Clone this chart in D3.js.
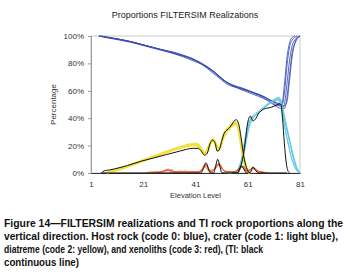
<!DOCTYPE html>
<html lang="en">

<head>
    <meta charset="utf-8">
    <script src='https://d3js.org/d3.v7.min.js'></script>
    <style>
        body { margin: 0; background: #fff; }
    </style>
</head>

<body>
    <div class="chart"></div>

    <script>

        // axis ticks
        const xTicks = [1, 21, 41, 61, 81];
        const yTicks = [0, 20, 40, 60, 80, 100];

        // host rock (code 0) realizations, [level, %]
        const host1 = [[4,100],[7,99],[11,98],[15,96.5],[20,94],[25,91.5],[30,89],[35,86],[40,83],[43,80],[47,75.5],[50,71],[53,66],[56,63],[60,60.5],[64,58],[68,55],[71,51.5],[73,49],[74,49],[75,58],[76,78],[77,92],[78,97],[79,99],[80,100]];
        const host2 = [[5,100],[8,98.5],[12,97],[16,95.5],[21,93],[26,90.5],[31,88],[36,85],[40,82],[44,78.5],[47,74],[50,69.5],[53,65],[57,62],[61,59],[65,56],[69,52.5],[72,48.5],[74,47],[75,50],[76,65],[77,82],[78,93],[79,97],[80,99],[81,100]];
        const host3 = [[4,100],[8,99],[12,97.5],[17,95.5],[22,93],[27,90.5],[32,88.5],[37,85.5],[41,82],[44,79],[48,74],[51,69],[54,65],[58,62],[62,59.5],[66,56.5],[70,53],[73,50],[74,48],[75,47],[76,55],[77,72],[78,88],[79,95],[80,99],[81,100]];
        const host4 = [[5,100],[9,98.5],[13,97],[18,95],[23,92.5],[28,90],[33,87.5],[38,84.5],[42,81],[45,77.5],[48,73.5],[51,68.5],[55,64],[59,61.5],[63,58.5],[67,55],[70,51.5],[72,49.5],[74,50],[75,64],[76,84],[77,95],[78,99],[79,100]];
        const host5 = [[4,100],[7,98.8],[11,97.8],[16,96],[21,93.5],[26,91],[31,88.5],[36,86],[40,83.5],[43,80.5],[46,77],[49,72.5],[52,67.5],[55,64.5],[59,62],[63,59],[67,56],[70,52.5],[73,50.5],[75,49],[76,52],[77,68],[78,85],[79,94],[80,98],[81,100]];

        // crater (code 1) realizations
        const crater1 = [[53,0],[56,0],[58,6],[59,15],[60,26],[61,35],[62,40],[63,42],[65,45],[67,48],[69,51],[71,53.5],[72.5,55],[73.5,52],[74.5,44],[75.5,35],[76.5,27],[77.5,18],[78.5,10],[79.5,4],[80.5,1],[81,0]];
        const crater2 = [[54,0],[57,0],[58.5,5],[59.5,14],[60.5,25],[61.5,34],[63,40],[65,43.5],[67,47],[69,50],[71,52.5],[72.5,54],[73.5,50],[74.5,40],[75.5,30],[76.5,21],[77.5,13],[78.5,7],[79.5,3],[81,0]];
        const crater3 = [[53,0],[56,0],[57.5,4],[59,12],[60,22],[61,32],[62,38.5],[64,42],[66,45.5],[68,49],[70,52],[72,54.5],[73,55.5],[74,49],[75,40],[76,32],[77,24],[78,16],[79,9],[80,3],[81,0]];
        const crater4 = [[55,0],[57,0],[58,4],[59.5,13],[60.5,24],[62,36],[63.5,41],[65.5,44],[67.5,48],[69.5,51],[71.5,53],[73,53],[74,46],[75,36],[76,26],[77,17],[78,9],[79,4],[80,1],[81,0]];
        const crater5 = [[54,0],[56,0],[58,5],[59,13],[60,24],[61,33],[62,39],[64,43],[66,46],[68,49.5],[70,52],[72,54],[73.5,54],[74.5,47],[75.5,38],[76.5,29],[77.5,20],[78.5,12],[79.5,5],[80.5,1.5],[81,0]];

        // diatreme (code 2) realizations
        const diat1 = [[7,0.5],[9,1.5],[12,3],[15,5],[20,8.5],[25,12],[30,15.5],[35,18.5],[38,20],[41,20.5],[42.5,19.5],[43.5,16],[44.5,14],[45.5,16],[46.5,21],[47.5,24],[48.5,22],[49.5,17],[50.5,19],[51.5,26],[53,31],[55,35],[56.5,36.5],[57.5,32],[58.5,21],[59.5,10],[60.5,3],[61.5,0]];
        const diat2 = [[8,0.5],[10,2],[13,3.5],[16,5.5],[21,9],[26,12.5],[31,16],[36,19],[39,20.5],[41.5,21],[43,18.5],[44,15],[45,14.5],[46,18],[47,23],[48,24.5],[49,20],[50,17.5],[51,22],[52,28],[54,33],[56,36],[57,35],[58,27],[59,15],[60,6],[61,1],[62,0]];
        const diat3 = [[7,0],[9,1],[12,2.5],[15,4.5],[20,8],[25,11.5],[30,15],[35,18],[38,19.5],[41,20],[42.5,18.5],[43.5,15],[44.5,13.5],[45.5,17],[46.5,22],[47.5,23.5],[48.5,21],[49.5,16.5],[50.5,20],[51.5,25],[53,30],[55,34],[56.5,35.5],[57.5,33],[58.5,23],[59.5,12],[60.5,4],[61.5,0.5],[62,0]];
        const diat4 = [[8,1],[10,2.5],[13,4],[16,6],[21,9.5],[26,13],[31,16.5],[36,19.5],[39,21],[41.5,21.5],[42.5,20],[43.5,17],[44.5,15],[45.5,15.5],[46.5,20],[47.5,25],[48.5,23],[49.5,18],[50.5,18.5],[51.5,27],[53,32],[55,36],[56.5,37],[57.5,31],[58.5,19],[59.5,8],[60.5,2],[61.5,0]];

        // xenoliths (code 3) realizations
        const xeno1 = [[22,0],[24,0.8],[26,0.3],[28,1],[30,2.5],[31,1],[33,0.5],[35,1.5],[37,0.5],[40,1],[42,0.5],[43.5,2],[44.5,5.5],[45.5,4],[46.5,1],[47.5,1.5],[48.5,4],[49.5,6.5],[50.5,5],[51.5,2],[53,1],[55,0.5],[57,2],[58.5,4.5],[59.5,3],[60.5,1],[62,2.5],[63,4],[64,2],[65.5,0.5],[67,0.5],[69,0]];
        const xeno2 = [[24,0],[26,1],[28,0.5],[29.5,2],[30.5,3],[32,1],[34,0.5],[36,1],[38,0.3],[41,1],[43,1.5],[44.5,6],[45.5,5],[46.5,2],[48,2.5],[49,5.5],[50,7],[51,4],[52,1.5],[54,1],[56,1],[57.5,3],[58.5,5.5],[59.5,4],[61,1.5],[62.5,3],[63.5,3.5],[64.5,1.5],[66,1],[68,0]];
        const xeno3 = [[25,0],[27,0.5],[29,1.5],[31,2],[33,1],[35,0.5],[37,1.5],[39,0.5],[42,0.5],[43.5,3],[44.5,4.5],[45.5,3],[46.5,0.5],[48,2],[49,4],[50,6],[51,3.5],[52.5,1],[55,1],[57,1.5],[58,4],[59,4.5],[60,2],[61.5,2],[62.5,3.5],[63.5,3],[65,1],[67,0.5],[68,0]];
        const xeno4 = [[26,0],[28,1],[30,1.5],[32,2.5],[33,1],[36,0.5],[39,1],[41,0.5],[43,1],[44,4],[45,6],[46,3],[47,1],[48.5,3],[49.5,5.5],[50.5,6],[51.5,2.5],[53,0.5],[56,1],[57.5,2.5],[58.5,4],[59.5,5],[60.5,2],[62,1.5],[63,3],[64,3],[65,1.5],[66.5,0.5],[68,0]];

        // training image (TI) proportions, black lines
        const tiDiat = [[5,0],[5.5,1],[6.5,1.8],[8,2.2],[10,3],[15,5.5],[20,8.5],[25,11],[30,13.5],[35,16],[40,18],[42,18],[43,16.5],[44.5,13],[45.5,14.5],[46.5,21],[47.5,24],[48.5,22],[49.3,16],[50,16.5],[51,23],[52,29],[54,33],[55.5,37],[56.5,39],[57.5,36],[58.5,25],[59.5,12],[60.5,4],[61.5,0.5],[62,0]];
        const tiCrater = [[55,0],[57,0],[58,3],[59,10],[60,22],[61,37],[62,41.5],[63,38],[64,39.5],[65,43],[67,46.5],[70,48],[72,49.5],[73,50.5],[73.7,50],[74.3,40],[75,22],[75.7,8],[76.5,1],[77,0]];
        const tiXeno = [[5,0],[43,0],[44,3],[45,7.5],[46,3],[46.8,0],[48,0],[48.7,5],[49.5,10],[50.3,5],[51,0.5],[52,0],[57,0],[58,3.5],[58.7,5],[59.5,3],[60.5,0],[62,0.5],[63,4.5],[64,2],[65,0],[76,0]];

        const captionLines = [
            "Figure 14\u2014FILTERSIM realizations and TI rock proportions along the",
            "vertical direction. Host rock (code 0: blue), crater (code 1: light blue),",
            "diatreme (code 2: yellow), and xenoliths (code 3: red), (TI: black",
            "continuous line)"
        ];
        const captionWidths = [339, 334, 259, 75];

        const width = 346;
        const height = 279;
        const plot = { left: 91, right: 300, top: 36, bottom: 173 };
        const font = "'Liberation Sans', Arial, sans-serif";

        const svg = d3.select(".chart").append("svg")
            .attr("width", width)
            .attr("height", height)
            .style("font-family", font);

        // scales
        const x = d3.scaleLinear().domain([1, 81]).range([plot.left, plot.right]);
        const y = d3.scaleLinear().domain([0, 100]).range([plot.bottom, plot.top]);

        // title
        svg.append("text")
            .attr("x", 185).attr("y", 18)
            .attr("text-anchor", "middle")
            .style("font-size", "9px")
            .attr("fill", "#222")
            .text("Proportions FILTERSIM Realizations");

        // frame
        svg.append("rect")
            .attr("x", plot.left).attr("y", plot.top)
            .attr("width", plot.right - plot.left).attr("height", plot.bottom - plot.top)
            .attr("fill", "none").attr("stroke", "#bbb").attr("stroke-width", 0.8);

        // y axis
        const yAxis = svg.append("g")
            .attr("transform", `translate(${plot.left},0)`)
            .call(d3.axisLeft(y).tickValues(yTicks).tickSize(3).tickFormat(d => d + "%"));
        yAxis.select(".domain").attr("stroke", "#999");
        yAxis.selectAll(".tick line").attr("stroke", "#999");
        yAxis.selectAll("text").attr("fill", "#333").style("font-size", "8px").style("font-family", font).attr("x", -7);

        // x axis
        const xAxis = svg.append("g")
            .attr("transform", `translate(0,${plot.bottom})`)
            .call(d3.axisBottom(x).tickValues(xTicks).tickSize(0).tickPadding(8));
        xAxis.select(".domain").attr("stroke", "#333").attr("stroke-width", 1);
        xAxis.selectAll("text").attr("fill", "#333").style("font-size", "8px").style("font-family", font);

        // axis titles
        svg.append("text")
            .attr("x", (plot.left + plot.right) / 2).attr("y", 198)
            .attr("text-anchor", "middle")
            .style("font-size", "7.5px").attr("fill", "#333")
            .text("Elevation Level");
        svg.append("text")
            .attr("transform", `translate(56,${(plot.top + plot.bottom) / 2}) rotate(-90)`)
            .attr("text-anchor", "middle")
            .style("font-size", "8px").attr("fill", "#333")
            .text("Percentage");

        // line generator
        const line = d3.line()
            .x(d => x(d[0]))
            .y(d => y(d[1]))
            .curve(d3.curveMonotoneX);

        const plotG = svg.append("g");

        function drawSet(sets, color, w) {
            plotG.selectAll(null)
                .data(sets)
                .enter()
                .append("path")
                .attr("d", line)
                .attr("fill", "none")
                .attr("stroke", color)
                .attr("stroke-width", w)
                .attr("stroke-opacity", 0.85);
        }

        drawSet([host1, host2, host3, host4, host5], "#3b4cb2", 1);
        drawSet([crater1, crater2, crater3, crater4, crater5], "#5ec6e2", 1);
        drawSet([diat1, diat2, diat3, diat4], "#f0e03c", 2);
        drawSet([xeno1, xeno2, xeno3, xeno4], "#e2622f", 1);

        // TI lines on top
        plotG.selectAll(null)
            .data([tiDiat, tiCrater, tiXeno])
            .enter()
            .append("path")
            .attr("d", line)
            .attr("fill", "none")
            .attr("stroke", "#111")
            .attr("stroke-width", 1);

        // caption
        svg.append("g").selectAll("text")
            .data(captionLines)
            .enter()
            .append("text")
            .attr("x", 4)
            .attr("y", (d, i) => 227 + i * 13)
            .attr("textLength", (d, i) => captionWidths[i])
            .attr("lengthAdjust", "spacingAndGlyphs")
            .style("font-size", "10px")
            .style("font-weight", "bold")
            .attr("fill", "#111")
            .text(d => d);

    </script>
</body>

</html>
